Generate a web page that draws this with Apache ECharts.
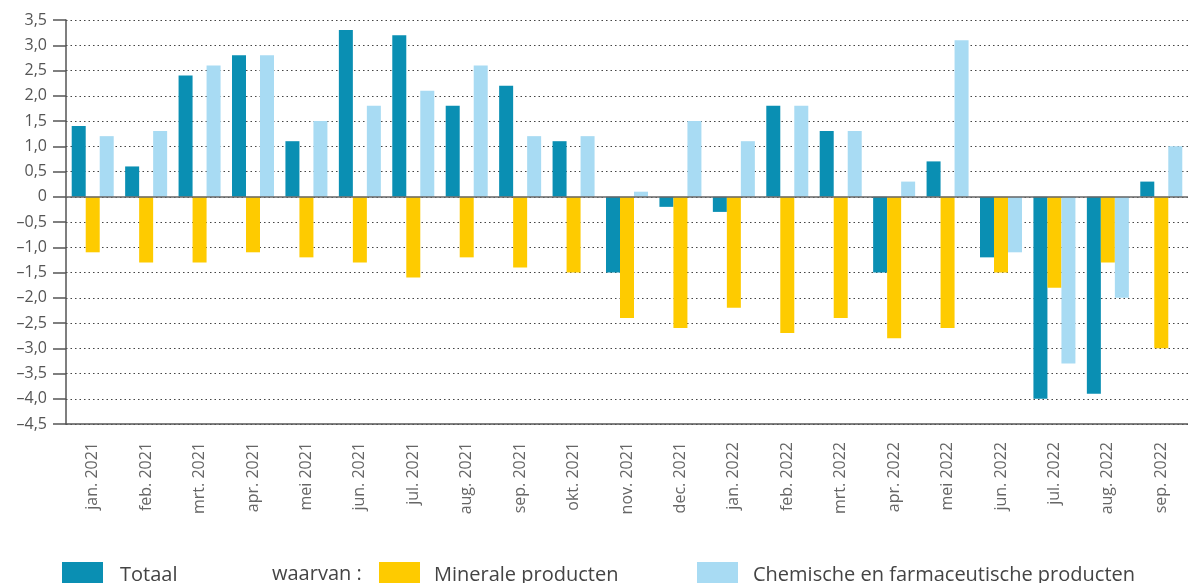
<!DOCTYPE html>
<html>
<head>
<meta charset="utf-8">
<script src="https://cdn.jsdelivr.net/npm/echarts@6/dist/echarts.min.js"></script>
<style>
	html, body {margin: 0; padding: 0; background: #fff;}
	#chart {width: 1188px; height: 583px;}
</style>
</head>
<body>
<div id="chart"></div>
<script type="text/javascript">
	var months = ['jan. 2021', 'feb. 2021', 'mrt. 2021', 'apr. 2021', 'mei 2021', 'jun. 2021',
		'jul. 2021', 'aug. 2021', 'sep. 2021', 'okt. 2021', 'nov. 2021', 'dec. 2021',
		'jan. 2022', 'feb. 2022', 'mrt. 2022', 'apr. 2022', 'mei 2022', 'jun. 2022',
		'jul. 2022', 'aug. 2022', 'sep. 2022'];
	var totaal = [1.4, 0.6, 2.4, 2.8, 1.1, 3.3, 3.2, 1.8, 2.2, 1.1, -1.5, -0.2,
		-0.3, 1.8, 1.3, -1.5, 0.7, -1.2, -4.0, -3.9, 0.3];
	var minerale = [-1.1, -1.3, -1.3, -1.1, -1.2, -1.3, -1.6, -1.2, -1.4, -1.5, -2.4, -2.6,
		-2.2, -2.7, -2.4, -2.8, -2.6, -1.5, -1.8, -1.3, -3.0];
	var chemisch = [1.2, 1.3, 2.6, 2.8, 1.5, 1.8, 2.1, 2.6, 1.2, 1.2, 0.1, 1.5,
		1.1, 1.8, 1.3, 0.3, 3.1, -1.1, -3.3, -2.0, 1.0];
	var names = ['Totaal', 'Minerale producten', 'Chemische en farmaceutische producten'];
	var colors = ['#0a8fb3', '#fecb00', '#a8dbf3'];

	var font = '"Open Sans", "Noto Sans", sans-serif';

	// 0 -> "0", -1.5 -> "–1,5"
	function fmt(v) {
		if (v === 0) return '0';
		return (v < 0 ? '\u2013' : '') + Math.abs(v).toFixed(1).replace('.', ',');
	}

	function legendFor(name, left, gap) {
		return {
			data: [name],
			left: left,
			top: 562,
			padding: 0,
			icon: 'rect',
			itemWidth: 41,
			itemHeight: 26,
			selectedMode: false,
			textStyle: {
				fontFamily: font,
				fontSize: 20,
				color: '#444',
				padding: [0, 0, 4, gap]
			}
		};
	}

	var myChart = echarts.init(document.getElementById('chart'));
	var option = {
		animation: false,
		color: colors,
		grid: {left: 66, right: -11, top: 20, bottom: 159, containLabel: false},
		legend: [
			legendFor(names[0], 62, 12),
			legendFor(names[1], 379, 9),
			legendFor(names[2], 697, 10)
		],
		graphic: [{
			type: 'text',
			left: 272,
			top: 561,
			style: {
				text: 'waarvan :',
				font: '20px ' + font,
				fill: '#444',
				lineHeight: 26,
				verticalAlign: 'top'
			}
		}],
		xAxis: {
			type: 'category',
			data: months,
			boundaryGap: true,
			axisLine: {onZero: false, lineStyle: {color: '#555', width: 1.5}},
			axisTick: {inside: true, length: 9, lineStyle: {color: '#555', width: 1.5}},
			axisLabel: {
				rotate: 90,
				margin: 18,
				interval: 0,
				fontFamily: font,
				fontSize: 16,
				color: '#666'
			},
			splitLine: {show: false}
		},
		yAxis: {
			type: 'value',
			min: -4.5,
			max: 3.5,
			interval: 0.5,
			axisLine: {show: true, lineStyle: {color: '#555', width: 1.5}},
			axisTick: {show: true, length: 13, lineStyle: {color: '#555', width: 1.5}},
			axisLabel: {
				margin: 19,
				fontFamily: font,
				fontSize: 16,
				color: '#555',
				formatter: fmt
			},
			splitLine: {
				show: true,
				lineStyle: {color: '#444', width: 1.2, type: [1.5, 3]}
			}
		},
		series: [
			{
				name: names[0],
				type: 'bar',
				data: totaal,
				barWidth: 14,
				barGap: '0%',
				markLine: {
					silent: true,
					symbol: 'none',
					label: {show: false},
					lineStyle: {color: '#666', width: 1.5, type: 'solid'},
					data: [{yAxis: 0}]
				}
			},
			{
				name: names[1],
				type: 'bar',
				data: minerale,
				barWidth: 14,
				barGap: '0%'
			},
			{
				name: names[2],
				type: 'bar',
				data: chemisch,
				barWidth: 14,
				barGap: '0%'
			}
		]
	};
	myChart.setOption(option);
</script>
</body>
</html>
